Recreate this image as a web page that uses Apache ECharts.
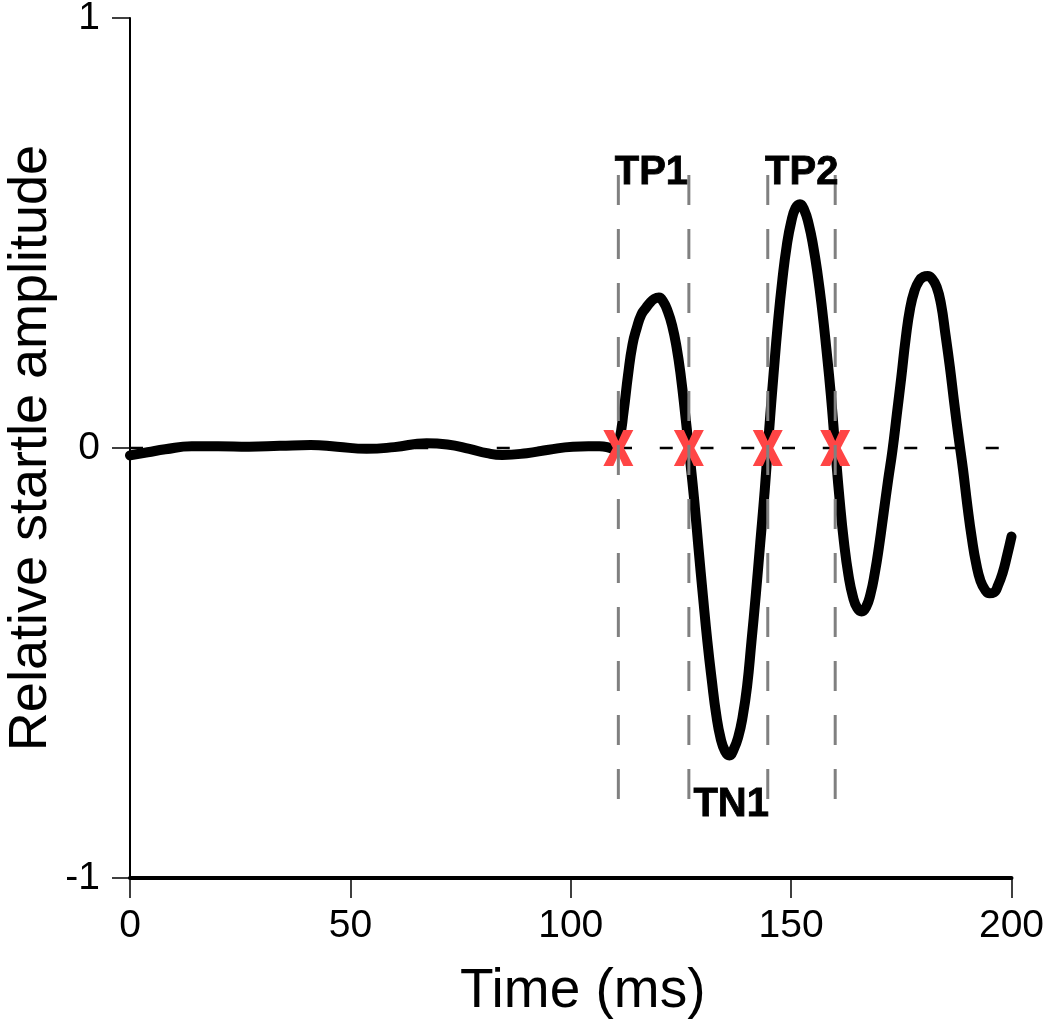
<!DOCTYPE html>
<html>
<head>
<meta charset="utf-8">
<script src="https://cdn.jsdelivr.net/npm/echarts@6/dist/echarts.min.js"></script>
<style>
html,body{margin:0;padding:0;background:#fff;}
#chart{width:1050px;height:1023px;}
</style>
</head>
<body>
<div id="chart"></div>
<script>
// ---- data ----
var timeMs = [0,4,8,14,20,27,34,41,47,53.7,60,67.3,72,77,81,84.5,90,95,100.5,104,106.5,109,
  110,111,112,113,114,115,116,117,118,119,120,121,122,123,124,125,126,127,128,129,130,
  131,132,133,134,135,136,137,138,139,140,141,142,143,144,145,146,147,148,149,150,
  151,152,153,154,155,156,157,158,159,160,161,162,163,164,165,166,167,168,169,170,
  171,172,173,174,175,176,177,178,179,180,181,182,183,184,185,186,187,188,189,190,
  191,192,193,194,195,196,197,198,199,200];
var amplitude = [-0.017,-0.01,-0.003,0.004,0.004,0.003,0.005,0.007,0.003,-0.002,0.002,0.011,0.008,-0.002,-0.012,-0.016,-0.012,-0.004,0.003,0.004,0.004,0.0,
  -0.004,0.018,0.085,0.17,0.24,0.28,0.31,0.325,0.338,0.347,0.35,0.34,0.318,0.285,0.235,0.165,0.075,-0.02,-0.12,-0.235,-0.345,
  -0.45,-0.54,-0.62,-0.675,-0.705,-0.715,-0.70,-0.672,-0.625,-0.555,-0.45,-0.34,-0.22,-0.10,0.04,0.17,0.29,0.39,0.47,0.525,
  0.558,0.567,0.553,0.52,0.47,0.405,0.325,0.23,0.125,0.0,-0.12,-0.22,-0.295,-0.345,-0.372,-0.38,-0.37,-0.34,-0.29,-0.225,
  -0.15,-0.075,-0.005,0.08,0.165,0.255,0.325,0.366,0.388,0.398,0.4,0.393,0.375,0.335,0.265,0.19,0.105,0.025,-0.05,-0.135,
  -0.21,-0.27,-0.31,-0.33,-0.338,-0.336,-0.318,-0.29,-0.25,-0.206];
var crossTimes = [110.8, 126.8, 144.7, 160.0];
var guideTop = 0.635, guideBottom = -0.837;
var zeroLineEnd = 197.3;
var peakNames = ['TP1', 'TP2', 'TN1'];
var peakTimes = [118.3, 152.4, 136.4];
var peakValues = [0.64, 0.64, -0.83];
var xTicks = [0, 50, 100, 150, 200];
var yTicks = [-1, 0, 1];

// ---- chart ----
var FONT = '"Liberation Sans", Arial, sans-serif';
var chart = echarts.init(document.getElementById('chart'), null, {renderer: 'canvas'});

var curve = timeMs.map(function (t, i) { return [t, amplitude[i]]; });
var series = [];

series.push({
  type: 'line', data: [[0, 0], [zeroLineEnd, 0]], symbol: 'none', silent: true, z: 1,
  lineStyle: {color: '#000', width: 2.5, type: [13, 27.75]}
});
series.push({
  type: 'line', data: curve, symbol: 'none', smooth: 0.5, z: 2,
  lineStyle: {color: '#000', width: 10, cap: 'round', join: 'round'}
});
series.push({
  type: 'scatter', z: 3,
  data: crossTimes.map(function (t) { return [t, 0]; }),
  symbol: 'path://M0,0 L10,0 L15,11 L20,0 L30,0 L20.5,18 L30,36 L20,36 L15,25 L10,36 L0,36 L9.5,18 Z',
  symbolSize: [30, 36],
  itemStyle: {color: '#ff4545', opacity: 1}
});
crossTimes.forEach(function (t) {
  series.push({
    type: 'line', data: [[t, guideTop], [t, guideBottom]], symbol: 'none', silent: true, z: 4,
    lineStyle: {color: '#808080', width: 3, type: [30, 24]}
  });
});
series.push({
  type: 'scatter', z: 5, symbolSize: 0, itemStyle: {color: '#000', opacity: 1},
  data: peakNames.map(function (n, i) { return {name: n, value: [peakTimes[i], peakValues[i]]}; }),
  label: {show: true, position: 'inside', formatter: '{b}', color: '#000', opacity: 1,
    textBorderColor: '#000', textBorderWidth: 0.8,
    fontSize: 40, fontWeight: 'bold', fontFamily: FONT}
});

chart.setOption({
  animation: false,
  backgroundColor: '#fff',
  grid: {left: 130, right: 38.5, top: 18, bottom: 145, containLabel: false, outerBoundsMode: 'none'},
  xAxis: {
    type: 'value', min: 0, max: 200, interval: 50,
    name: 'Time (ms)', nameLocation: 'middle', nameGap: 86,
    nameTextStyle: {fontSize: 55, color: '#000', fontFamily: FONT, padding: [0, 0, 0, 24]},
    axisLine: {onZero: false, lineStyle: {color: '#000', width: 4}},
    axisTick: {length: 20, lineStyle: {color: '#000', width: 1.5}},
    axisLabel: {fontSize: 39, color: '#000', margin: 29, fontFamily: FONT,
      formatter: function (v) { return xTicks.indexOf(v) >= 0 ? String(v) : ''; }},
    splitLine: {show: false}
  },
  yAxis: {
    type: 'value', min: -1, max: 1, interval: 1,
    name: 'Relative startle amplitude', nameLocation: 'middle', nameGap: 72,
    nameMoveOverlap: false,
    nameTextStyle: {fontSize: 54, color: '#000', fontFamily: FONT},
    axisLine: {onZero: false, lineStyle: {color: '#000', width: 2}},
    axisTick: {length: 18, lineStyle: {color: '#000', width: 1.5}},
    axisLabel: {fontSize: 39, color: '#000', margin: 30, fontFamily: FONT,
      formatter: function (v) { return yTicks.indexOf(v) >= 0 ? String(v) : ''; }},
    splitLine: {show: false}
  },
  series: series
});
</script>
</body>
</html>
